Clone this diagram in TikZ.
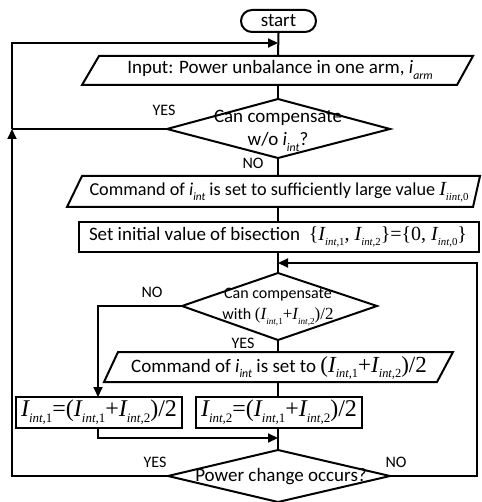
\documentclass[tikz,border=0pt]{standalone}
\usepackage{fontspec}
\setmainfont{Carlito}
\newfontfamily\tms{Liberation Serif}
\usetikzlibrary{arrows.meta}
\newcommand\sbs[1]{\raisebox{-0.28em}{\scalebox{0.62}{#1}}}
\newcommand\tsb[1]{\raisebox{-0.25em}{\scalebox{0.54}{#1}}}
\newcommand\TI[1]{{\tms\itshape I}\tsb{\tms\itshape int,\upshape #1}}
\newcommand\ci[1]{{\itshape i\sbs{\itshape #1}}}
\newcommand\avg{{\tms(}\TI{1}{\tms+}\TI{2}{\tms)/2}}
\begin{document}
\begin{tikzpicture}[x=1pt,y=-1pt,line width=2pt,
  txt/.style={inner sep=0pt,font=\fontsize{19}{23}\selectfont},
  sml/.style={inner sep=0pt,font=\fontsize{16}{21}\selectfont},
  fml/.style={font=\fontsize{24}{26}\selectfont},
  arr/.style={-{Triangle[length=10pt,width=9pt]}},
  lbl/.style={inner sep=0pt,font=\fontsize{16}{18}\selectfont}]
\useasboundingbox (0,0) rectangle (481,502);
% start
\node[draw,rounded corners=11pt,minimum width=75pt,minimum height=22pt,inner sep=0pt,txt] (start) at (278.5,21) {start};
% input
\draw (99,56) -- (473,56) -- (457,85) -- (82,85) -- cycle;
\coordinate (in1t) at (278,56); \coordinate (in1b) at (278,85);
\node[txt] (in1txt) at (280,70) {Input: Power unbalance in one arm, \ci{arm}};
% diamond 1
\coordinate (d1t) at (278,99); \coordinate (d1r) at (390,129);
\coordinate (d1b) at (278,158); \coordinate (d1l) at (167,129);
\draw (d1t) -- (d1r) -- (d1b) -- (d1l) -- cycle;
\node[txt,align=center] (d1txt) at (278,131) {Can compensate\\ w/o \ci{int}?};
% para 2
\draw (82,176) -- (480,176) -- (473,207) -- (67,207) -- cycle;
\coordinate (p2t) at (278,176); \coordinate (p2b) at (278,207);
\node[inner sep=0pt,font=\fontsize{18.2}{22}\selectfont] (p2txt) at (279,192) {Command of \ci{int} is set to sufficiently large value {\fontsize{20}{22}\selectfont{\tms\itshape I}\tsb{\tms\itshape iint,\upshape 0}}};
% rect 3
\draw (79,222) rectangle (479,252);
\coordinate (r3t) at (278,222); \coordinate (r3b) at (278,252);
\node[txt] (r3txt) at (278,237) {Set initial value of bisection\ \ {\fontsize{20}{22}\selectfont{\tms\{}\TI{1}{\tms, }\TI{2}{\tms\}=\{0, }\TI{0}{\tms\}}}};
% diamond 2
\coordinate (d2t) at (278,273); \coordinate (d2r) at (377,306);
\coordinate (d2b) at (278,340); \coordinate (d2l) at (182,306);
\draw (d2t) -- (d2r) -- (d2b) -- (d2l) -- cycle;
\node[sml,align=center] (d2txt) at (278,307) {Can compensate\\ with {\fontsize{17}{20}\selectfont\avg}};
% para 3
\draw (118,352) -- (453,352) -- (437,382) -- (104,382) -- cycle;
\coordinate (p3t) at (278,352); \coordinate (p3b) at (278,382);
\node[txt] (p3txt) at (279,368) {Command of \ci{int} is set to {\fontsize{23}{25}\selectfont\avg}};
% rect 4, 5
\draw (16,397) rectangle (182,428);
\coordinate (r4t) at (98,397); \coordinate (r4b) at (98,428);
\node[txt,fml] (r4txt) at (99,412) {\TI{1}{\tms=}\avg};
\draw (196,397) rectangle (362,428);
\coordinate (r5t) at (278,397); \coordinate (r5b) at (278,428);
\node[txt,fml] (r5txt) at (279,412) {\TI{2}{\tms=}\avg};
% diamond 3
\coordinate (d3t) at (278,450); \coordinate (d3r) at (390,476);
\coordinate (d3b) at (278,502); \coordinate (d3l) at (168,476);
\draw (d3t) -- (d3r) -- (d3b) -- (d3l) -- cycle;
\node[txt] (d3txt) at (281,477) {Power change occurs?};
% junction coordinates
\coordinate (j0) at (278,43); \coordinate (c4) at (12,43);
\coordinate (j1) at (12,129); \coordinate (c3) at (12,476);
\coordinate (j2) at (278,263); \coordinate (c2) at (477,263);
\coordinate (c1) at (477,476); \coordinate (j3) at (278,438);
% connectors
\draw (start.south) -- (in1t);
\draw (in1b) -- (d1t);
\draw (d1b) -- (p2t);
\draw (p2b) -- (r3t);
\draw (r3b) -- (d2t);
\draw (d2b) -- (p3t);
\draw (p3b) -- (r5t);
\draw (r5b) -- (d3t);
\draw[arr] (d2l) -| (r4t);
\draw[arr] (r4b) |- (j3);
\draw[arr] (d3r) -- (c1) -- (c2) -- (j2);
\draw[arr] (d3l) -- (c3) -- (j1);
\draw (d1l) -- (j1);
\draw[arr] (j1) -- (c4) -- (j0);
% labels
\node[lbl] (yes1) at (164,110) {YES};
\node[lbl] (no1) at (253,163) {NO};
\node[lbl] (no2) at (152,292) {NO};
\node[lbl] (yes2) at (243,343) {YES};
\node[lbl] (yes3) at (155,462) {YES};
\node[lbl] (no3) at (396,462) {NO};
\end{tikzpicture}
\end{document}
